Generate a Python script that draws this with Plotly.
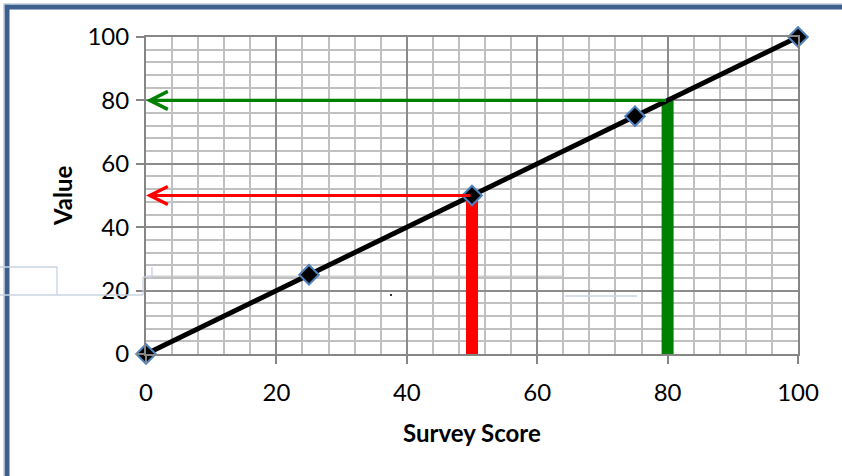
import plotly.graph_objects as go

# ---- data ----
score_x = [0, 25, 50, 75, 100]
value_y = [0, 25, 50, 75, 100]
read_scores = [50, 80]
read_values = [50, 80]
read_colors = ["#FF0000", "#008000"]
tick_step = 20
minor_step = 4

W, H = 842, 476
L, R, T, B = 146, 44, 37, 122
PW, PH = W - L - R, H - T - B

def px(xpix):
    return (xpix - L) / PW

def py(ypix):
    return (H - B - ypix) / PH

fig = go.Figure()

# vertical reading bars
for xs, ys, c in zip(read_scores, read_values, read_colors):
    fig.add_trace(go.Scatter(x=[xs, xs], y=[0, ys], mode="lines",
                             line=dict(color=c, width=12), hoverinfo="skip",
                             showlegend=False, cliponaxis=True))

# main line with diamonds
fig.add_trace(go.Scatter(x=score_x, y=value_y, mode="lines+markers",
                         line=dict(color="black", width=5),
                         marker=dict(symbol="diamond", size=15, color="black",
                                     line=dict(color="#4F81BD", width=2)),
                         showlegend=False, cliponaxis=False))

# horizontal arrows
for xs, ys, c in zip(read_scores, read_values, read_colors):
    fig.add_annotation(x=0, y=ys, ax=xs, ay=ys, xref="x", yref="y",
                       axref="x", ayref="y", showarrow=True, arrowhead=5,
                       arrowsize=1.1, arrowwidth=3.2, arrowcolor=c, text="")

# axis titles
fig.add_annotation(text="<b>Survey Score</b>", x=px(472), y=py(432), xref="paper",
                   yref="paper", showarrow=False, xanchor="center", yanchor="middle",
                   font=dict(size=24))
fig.add_annotation(text="<b>Value</b>", x=px(62), y=py(196), xref="paper",
                   yref="paper", showarrow=False, textangle=-90,
                   xanchor="center", yanchor="middle", font=dict(size=24))

# frame border
frame_col = "#3C5F8E"
fig.add_shape(type="line", xref="paper", yref="paper", x0=px(7), x1=px(7),
              y0=py(4.8), y1=py(480), line=dict(color=frame_col, width=5))
fig.add_shape(type="line", xref="paper", yref="paper", x0=px(4.8), x1=px(846),
              y0=py(7), y1=py(7), line=dict(color=frame_col, width=5))
fig.add_shape(type="line", xref="paper", yref="paper", x0=px(3.8), x1=px(3.8),
              y0=py(3.8), y1=py(480), line=dict(color="#B9C6D8", width=1))
fig.add_shape(type="line", xref="paper", yref="paper", x0=px(3.8), x1=px(846),
              y0=py(3.8), y1=py(3.8), line=dict(color="#B9C6D8", width=1))

# faint artifact outlines
faint = "#C9D3E3"
segs = [((0, 267), (57, 267)), ((57, 267), (57, 295)), ((0, 295), (143, 295)),
        ((143, 277), (143, 295)), ((143, 277), (152, 277)), ((152, 267), (152, 277)),
        ((565, 296), (637, 296))]
for (a, b) in segs:
    fig.add_shape(type="line", xref="paper", yref="paper", x0=px(a[0]), y0=py(a[1]),
                  x1=px(b[0]), y1=py(b[1]), line=dict(color=faint, width=1.3))
fig.add_shape(type="line", xref="paper", yref="paper", x0=px(147), y0=py(277),
              x1=px(563), y1=py(277), line=dict(color="#D0D0D0", width=3),
              layer="below")
fig.add_shape(type="rect", xref="paper", yref="paper", x0=px(390), y0=py(294),
              x1=px(392), y1=py(296), line=dict(width=0), fillcolor="#333")

axis_common = dict(
    showline=True, linecolor="#868686", linewidth=2, mirror=True,
    showgrid=True, gridcolor="#8C8C8C", gridwidth=1.5,
    ticks="outside", ticklen=8, tickcolor="#868686", tickwidth=1.5,
    zeroline=False, tickfont=dict(family="Lato", size=24, color="black"),
    tickmode="linear", tick0=0, dtick=tick_step,
    minor=dict(tick0=0, dtick=minor_step, showgrid=True, gridcolor="#C0C0C0",
               gridwidth=2, ticks=""),
)

fig.update_xaxes(range=[0, 100], ticklabelstandoff=8, **axis_common)
fig.update_yaxes(range=[0, 100], ticklabelstandoff=2, **axis_common)

fig.update_layout(
    width=W, height=H,
    margin=dict(l=L, r=R, t=T, b=B, autoexpand=False),
    plot_bgcolor="white", paper_bgcolor="white",
    font=dict(family="Lato", color="black"),
)

fig.write_html("out.html", config={"displayModeBar": False},
               post_script="document.body.style.margin='0';document.body.style.padding='0';")
